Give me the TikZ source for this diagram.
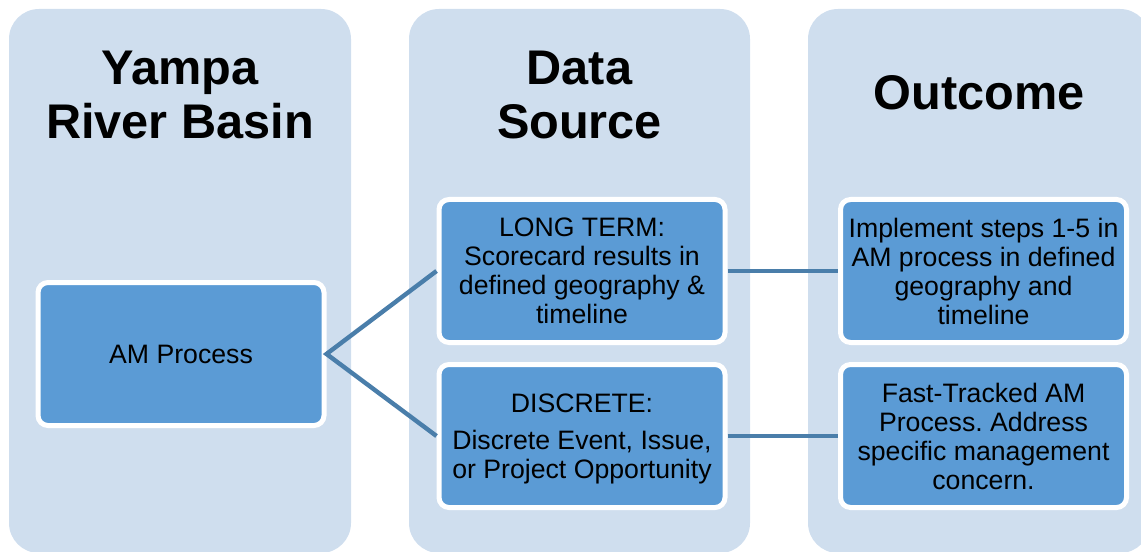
\documentclass[tikz,border=0pt]{standalone}
\usepackage{fontspec}
\setmainfont{Liberation Sans}
\frenchspacing
\definecolor{colbg}{RGB}{207,222,238}
\definecolor{boxfill}{RGB}{91,155,213}
\definecolor{linkblue}{RGB}{74,126,170}

\tikzset{every picture/.style={line width=0.75pt}}
\tikzset{
  colpanel/.style={fill=colbg, rounded corners=22.5pt},
  coltitle/.style={font=\fontsize{36.5}{41}\selectfont\bfseries, align=center, inner sep=0pt},
  itembox/.style={rectangle, rounded corners=7.5pt, fill=boxfill, draw=white, line width=3.75pt,
    minimum width=214.5pt, minimum height=107.25pt, inner sep=0pt, outer sep=1.875pt,
    align=center, font=\fontsize{20}{21.75}\selectfont},
  link/.style={draw=linkblue, line width=3.3pt}
}

\begin{document}
\begin{tikzpicture}[x=0.75pt,y=0.75pt,yscale=-1,xscale=1]
\useasboundingbox (0,0) rectangle (1141,552);
\clip (0,0) rectangle (1141,552);

%Shape: Columns
\fill [colpanel] (9,9) rectangle (351,553);
\fill [colpanel] (409,9) rectangle (750,553);
\fill [colpanel] (808,9) rectangle (1150,553);

% Text Node
\node [coltitle] (tbasin) at (180,95) {Yampa\\River Basin};
% Text Node
\node [coltitle] (tsource) at (579.5,95) {Data\\Source};
% Text Node
\node [coltitle] (toutcome) at (979,93) {Outcome};

%Shape: Boxes
\node [itembox] (amproc) at (181,354) {AM Process};
\node [itembox] (lterm) at (582,271) {LONG TERM:\\Scorecard results in\\defined geography \&\\timeline};
\node [itembox] (discr) at (582,436) {\rule{0pt}{19pt}DISCRETE:\\[6pt]Discrete Event, Issue,\\or Project Opportunity};
\node [itembox] (implem) at (983.5,271) {Implement steps 1-5 in\\AM process in defined\\geography and\\timeline};
\node [itembox] (fasttr) at (983.5,436) {Fast-Tracked AM\\Process. Address\\specific management\\concern.};

%Straight Lines
\draw [link] (lterm.west) -- (amproc.east) -- (discr.west);
\draw [link] (lterm.east) -- (implem.west);
\draw [link] (discr.east) -- (fasttr.west);

\end{tikzpicture}
\end{document}
